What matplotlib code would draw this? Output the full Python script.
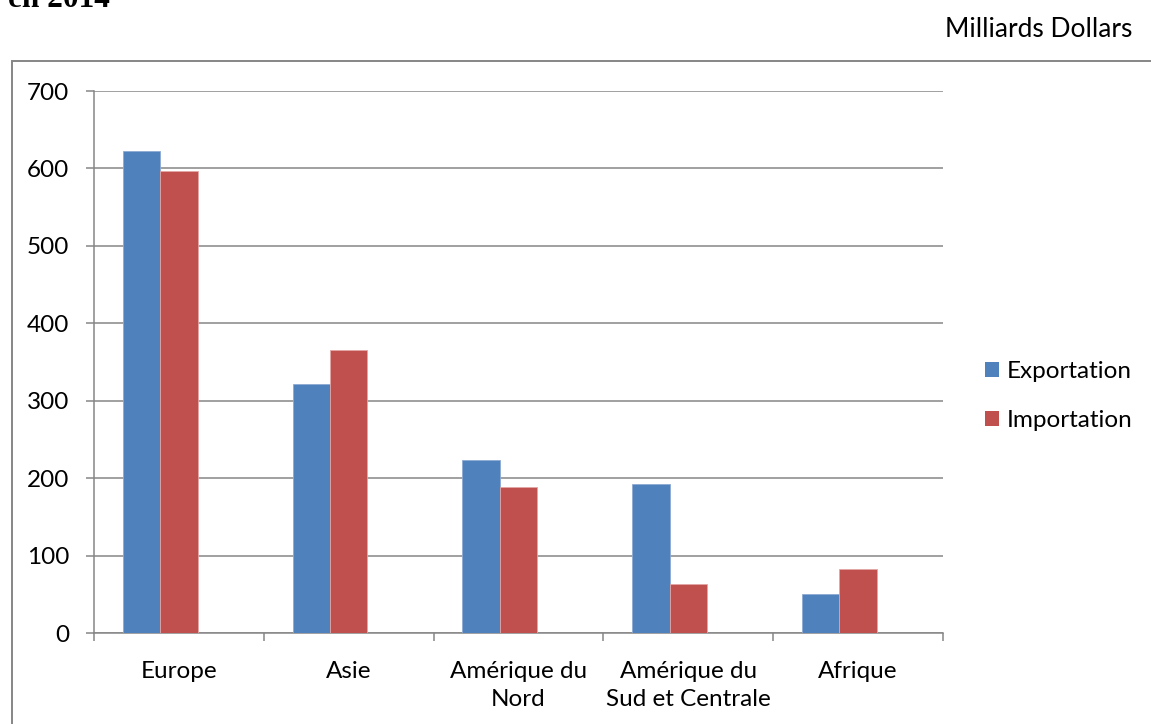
import matplotlib
matplotlib.use("Agg")
import matplotlib.pyplot as plt
import numpy as np
from matplotlib.patches import Patch, Rectangle

# Données (milliards de dollars)
regions = ["Europe", "Asie", "Amérique du\nNord", "Amérique du\nSud et Centrale", "Afrique"]
exportation = [622, 321, 224, 192, 50]
importation = [597, 365, 188, 63, 83]
series_names = ["Exportation", "Importation"]
y_ticks = [0, 100, 200, 300, 400, 500, 600, 700]

blue = "#4F81BD"
red = "#C0504D"
grey = "#868686"
fs = 17.5

W, H = 1151, 724
plt.rcParams["font.family"] = ["Lato", "DejaVu Sans"]

fig = plt.figure(figsize=(W / 100, H / 100), dpi=100)
ax = fig.add_axes([94 / W, 1 - 633 / H, (943 - 94) / W, (633 - 91) / H])

x = np.arange(len(regions))
bw = 0.22
ax.bar(x - bw, exportation, bw, color=blue, edgecolor="#8FAAD3", linewidth=0.6, zorder=3)
ax.bar(x, importation, bw, color=red, edgecolor="#E3A6A4", linewidth=0.6, zorder=3)

ax.set_xlim(-0.5, len(regions) - 0.5)
ax.set_ylim(0, 700)
ax.set_yticks(y_ticks)
ax.set_xticks(x)
ax.set_xticklabels(regions, fontsize=fs, linespacing=1.45)
ax.set_xticks(np.arange(len(regions) + 1) - 0.5, minor=True)
ax.tick_params(axis="x", which="major", length=0, pad=20)
ax.tick_params(axis="x", which="minor", length=6, width=1.1, color=grey, direction="out")
ax.tick_params(axis="y", length=6, width=1.1, color=grey, pad=12, labelsize=fs)

ax.yaxis.grid(True, color=grey, linewidth=1.1, zorder=0)
ax.set_axisbelow(True)
for s in ["top", "right"]:
    ax.spines[s].set_visible(False)
for s in ["left", "bottom"]:
    ax.spines[s].set_color(grey)
    ax.spines[s].set_linewidth(1.1)

# cadre du graphique
fig.patches.append(Rectangle((12 / W, -0.1), 2, (724 - 61) / H + 0.1, transform=fig.transFigure,
                             fill=False, edgecolor=grey, linewidth=1.4))

# légende
handles = [Patch(facecolor=blue), Patch(facecolor=red)]
fig.legend(handles, series_names, loc="center left", bbox_to_anchor=(985 / W, 1 - 396 / H),
           frameon=False, fontsize=fs, handlelength=0.58, handleheight=0.58,
           handletextpad=0.3, labelspacing=1.15, borderpad=0, borderaxespad=0)

fig.text(1132 / W, 1 - 37 / H, "Milliards Dollars", ha="right", va="baseline", fontsize=19)
fig.text(8 / W, 1 - 7 / H, "en 2014", ha="left", va="baseline", fontsize=22.5,
         fontweight="bold", family="Liberation Serif")

fig.savefig("out.png", dpi=100)
